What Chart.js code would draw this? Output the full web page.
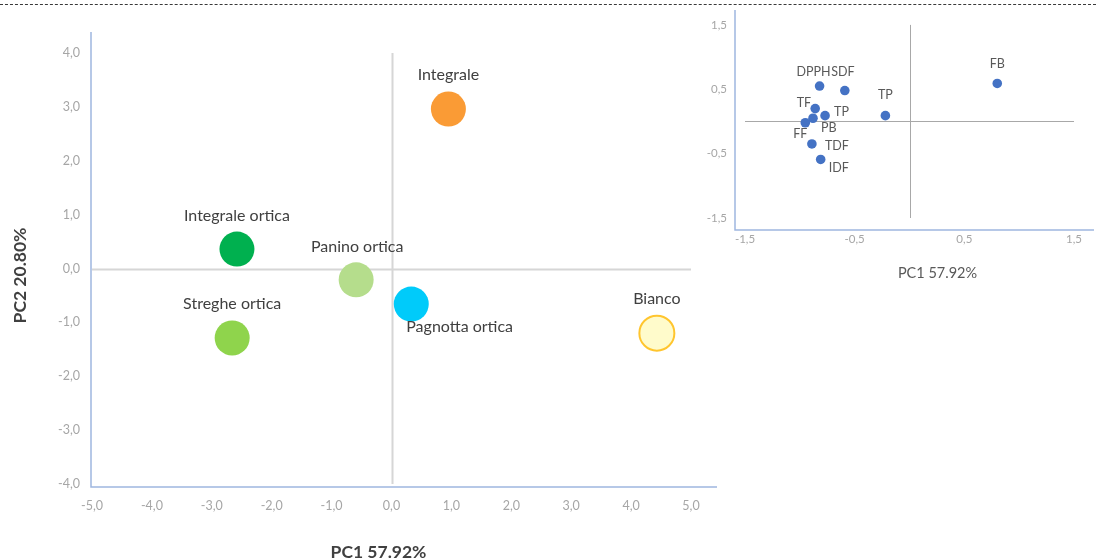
<!DOCTYPE html>
<html>
<head>
<meta charset="utf-8">
<title>PCA – pane con ortica</title>
<script src="https://cdn.jsdelivr.net/npm/chart.js@4.4.1/dist/chart.umd.min.js"></script>
<style>
  html, body { margin: 0; padding: 0; background: #fff; }
  #wrap { position: relative; width: 1096px; height: 558px; overflow: hidden; }
  #wrap canvas { position: absolute; left: 0; top: 0; }
  #rule { position: absolute; left: 0; top: 4px; width: 1096px; height: 0;
          border-top: 1px dashed #3a3a3a; }
</style>
</head>
<body>
<div id="wrap">
  <div id="rule"></div>
  <canvas id="scores" width="1096" height="558"></canvas>
  <canvas id="loadings" width="1096" height="558"></canvas>
</div>
<script>
// ---- Score plot: bread samples on PC1 / PC2 ----
const sampleNames = ['Integrale', 'Integrale ortica', 'Panino ortica', 'Streghe ortica', 'Pagnotta ortica', 'Bianco'];
const samplePC1   = [0.95, -2.58, -0.59, -2.66, 0.33, 4.43];
const samplePC2   = [2.96, 0.36, -0.21, -1.29, -0.66, -1.20];
const sampleFill  = ['#FA9B35', '#00B04F', '#B5DD8C', '#8FD44C', '#00CBFA', '#FFFBCB'];
const sampleEdge  = ['#FA9B35', '#00B04F', '#B5DD8C', '#8FD44C', '#00CBFA', '#FFC52E'];
const scoreTicksX = [-5, -4, -3, -2, -1, 0, 1, 2, 3, 4, 5];
const scoreTicksY = [-4, -3, -2, -1, 0, 1, 2, 3, 4];

// ---- Loading plot: measured variables on PC1 / PC2 ----
const varNames = ['FB', 'DPPH', 'SDF', 'TP', 'TF', 'TP', 'PB', 'FF', 'TDF', 'IDF'];
const varPC1   = [0.80, -0.82, -0.59, -0.22, -0.86, -0.77, -0.88, -0.95, -0.89, -0.81];
const varPC2   = [0.59, 0.55, 0.48, 0.09, 0.20, 0.09, 0.05, -0.02, -0.35, -0.59];
const loadTicks = [-1.5, -0.5, 0.5, 1.5];

const comma = v => Number(v).toFixed(1).replace('.', ',');
const TICK_GREY = '#a6a6a6';

// label placement around each marker: [dx, dy, textAlign]
const sampleLabelAt = [
  [0, -34, 'center'], [0, -33, 'center'], [1, -33, 'center'],
  [0, -34, 'center'], [-5, 23, 'left'], [0, -34, 'center']
];
const varLabelAt = [
  [0, -20, 'center'], [-6, -14, 'center'], [-2, -19, 'center'], [0, -21, 'center'],
  [-4, -6, 'right'], [9, -4, 'left'], [8, 10, 'left'], [-5, 11, 'center'],
  [13, 2, 'left'], [8, 9, 'left']
];

// zero cross-hair, the L-shaped axis frame, point labels and axis captions
const pcaDecor = {
  id: 'pcaDecor',
  beforeDatasetsDraw(chart, args, o) {
    const { ctx, chartArea: a, scales: { x, y } } = chart;
    ctx.save();
    const x0 = Math.round(x.getPixelForValue(0)) + 0.5;
    const y0 = Math.round(y.getPixelForValue(0)) + 0.5;
    ctx.strokeStyle = o.crossColor;
    ctx.lineWidth = o.crossWidth;
    ctx.beginPath();
    ctx.moveTo(x0, a.top); ctx.lineTo(x0, a.bottom);
    ctx.moveTo(a.left, y0); ctx.lineTo(a.right, y0);
    ctx.stroke();
    const f = o.frame;
    ctx.strokeStyle = '#9fb6e0';
    ctx.lineWidth = 1.5;
    ctx.beginPath();
    ctx.moveTo(a.left - f.left, a.top - f.top);
    ctx.lineTo(a.left - f.left, a.bottom + f.bottom);
    ctx.lineTo(a.right + f.right, a.bottom + f.bottom);
    ctx.stroke();
    ctx.restore();
  },
  afterDatasetsDraw(chart, args, o) {
    const { ctx, chartArea: a } = chart;
    const meta = chart.getDatasetMeta(0);
    ctx.save();
    ctx.font = o.labelFont;
    ctx.fillStyle = o.labelColor;
    ctx.textBaseline = 'middle';
    meta.data.forEach((pt, i) => {
      const [dx, dy, align] = o.labelAt[i];
      ctx.textAlign = align;
      ctx.fillText(o.names[i], pt.x + dx, pt.y + dy);
    });
    // horizontal axis caption
    const c = o.xCaption;
    ctx.font = c.font;
    ctx.fillStyle = c.color;
    ctx.textAlign = 'center';
    ctx.fillText(c.text, (a.left + a.right) / 2 + c.dx, a.bottom + c.dy);
    // vertical axis caption
    if (o.yCaption) {
      const t = o.yCaption;
      ctx.font = t.font;
      ctx.fillStyle = t.color;
      ctx.translate(t.x, (a.top + a.bottom) / 2 + t.dy);
      ctx.rotate(-Math.PI / 2);
      ctx.fillText(t.text, 0, 0);
    }
    ctx.restore();
  }
};

function fixedTicks(values) {
  return scale => { scale.ticks = values.map(v => ({ value: v })); };
}

new Chart(document.getElementById('scores'), {
  type: 'scatter',
  data: {
    datasets: [{
      data: samplePC1.map((v, i) => ({ x: v, y: samplePC2[i] })),
      backgroundColor: sampleFill,
      borderColor: sampleEdge,
      borderWidth: sampleNames.map(n => n === 'Bianco' ? 2 : 0),
      pointRadius: 17.5,
      pointHoverRadius: 17.5
    }]
  },
  options: {
    responsive: false,
    animation: false,
    events: [],
    layout: { padding: { left: 0, top: 53, right: 405, bottom: 0 } },
    scales: {
      x: {
        type: 'linear', min: -5, max: 5,
        afterBuildTicks: fixedTicks(scoreTicksX),
        afterFit(s) { s.height = 74; },
        grid: { display: false, drawTicks: false },
        border: { display: false },
        ticks: { callback: comma, color: TICK_GREY, padding: 14,
                 font: { family: 'Lato', size: 12.5 } }
      },
      y: {
        type: 'linear', min: -4, max: 4,
        afterBuildTicks: fixedTicks(scoreTicksY),
        afterFit(s) { s.width = 92; },
        grid: { display: false, drawTicks: false },
        border: { display: false },
        ticks: { callback: comma, color: TICK_GREY, padding: 12,
                 font: { family: 'Lato', size: 12.5 } }
      }
    },
    plugins: {
      legend: { display: false },
      tooltip: { enabled: false },
      pcaDecor: {
        names: sampleNames,
        labelAt: sampleLabelAt,
        labelFont: '16px Lato',
        labelColor: '#404040',
        crossColor: '#d6d6d6',
        crossWidth: 2,
        frame: { left: 1, top: 21, bottom: 3, right: 26 },
        xCaption: { text: 'PC1 57.92%', font: 'bold 17.5px Lato', color: '#404040', dx: -13, dy: 68 },
        yCaption: { text: 'PC2 20.80%', font: 'bold 17.5px Lato', color: '#404040', x: 20, dy: 7 }
      }
    }
  },
  plugins: [pcaDecor]
});

new Chart(document.getElementById('loadings'), {
  type: 'scatter',
  data: {
    datasets: [{
      data: varPC1.map((v, i) => ({ x: v, y: varPC2[i] })),
      backgroundColor: '#4472C4',
      borderWidth: 0,
      pointRadius: 4.8,
      pointHoverRadius: 4.8
    }]
  },
  options: {
    responsive: false,
    animation: false,
    events: [],
    layout: { padding: { left: 700, top: 22, right: 13, bottom: 0 } },
    scales: {
      x: {
        type: 'linear', min: -1.5, max: 1.5,
        afterBuildTicks: fixedTicks(loadTicks),
        afterFit(s) { s.height = 340; },
        grid: { display: false, drawTicks: false },
        border: { display: false },
        ticks: { callback: comma, color: TICK_GREY, padding: 14,
                 font: { family: 'Lato', size: 11.5 } }
      },
      y: {
        type: 'linear', min: -1.5, max: 1.5,
        afterBuildTicks: fixedTicks(loadTicks),
        afterFit(s) { s.width = 45; },
        grid: { display: false, drawTicks: false },
        border: { display: false },
        ticks: { callback: comma, color: TICK_GREY, padding: 18,
                 font: { family: 'Lato', size: 11.5 } }
      }
    },
    plugins: {
      legend: { display: false },
      tooltip: { enabled: false },
      pcaDecor: {
        names: varNames,
        labelAt: varLabelAt,
        labelFont: '12.5px Lato',
        labelColor: '#595959',
        crossColor: '#a8a8a8',
        crossWidth: 1,
        frame: { left: 10, top: 15, bottom: 12, right: 20 },
        xCaption: { text: 'PC1 57.92%', font: '14.5px Lato', color: '#595959', dx: 28, dy: 55 }
      }
    }
  },
  plugins: [pcaDecor]
});
</script>
</body>
</html>
